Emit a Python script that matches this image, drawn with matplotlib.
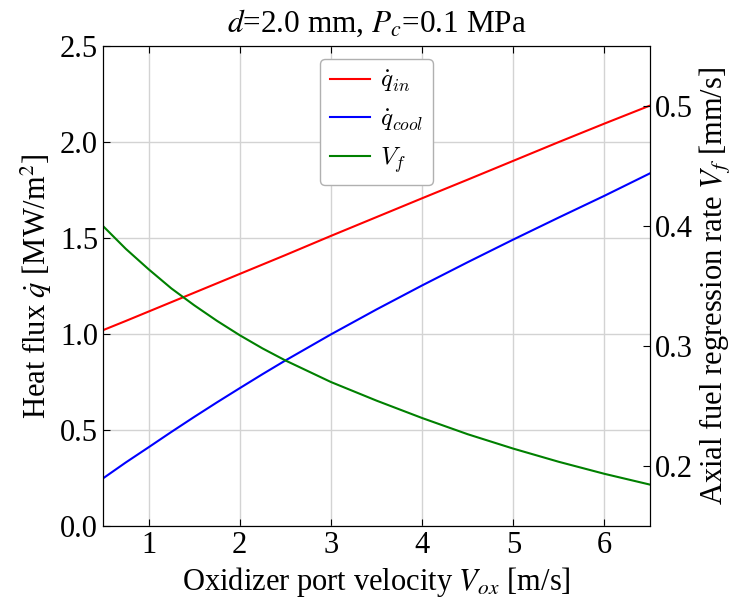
import matplotlib
matplotlib.use("Agg")
import matplotlib.pyplot as plt
from matplotlib.font_manager import FontProperties

plt.rcParams['font.family'] = ['Liberation Serif', 'DejaVu Serif']
plt.rcParams['mathtext.fontset'] = 'stix'

v_ox = [0.5, 0.75, 1.0, 1.25, 1.5, 1.75, 2.0, 2.25, 2.5, 3.0, 3.5, 4.0, 4.5, 5.0, 5.5, 6.0, 6.5]
q_in = [1.02, 1.068, 1.117, 1.166, 1.215, 1.264, 1.313, 1.362, 1.411, 1.511, 1.609, 1.707, 1.804, 1.902, 2.0, 2.096, 2.19]
q_cool = [0.248, 0.331, 0.41, 0.49, 0.568, 0.644, 0.718, 0.791, 0.862, 0.998, 1.128, 1.253, 1.374, 1.492, 1.607, 1.72, 1.837]
v_f = [0.400, 0.381, 0.364, 0.348, 0.334, 0.321, 0.309, 0.298, 0.288, 0.270, 0.2545, 0.240, 0.2265, 0.2145, 0.2035, 0.1935, 0.1845]

fig = plt.figure(figsize=(7.34, 6.0), dpi=100)
ax = fig.add_axes([0.1403, 0.1233, 0.7453, 0.80])
ax2 = ax.twinx()

l1, = ax.plot(v_ox, q_in, color='red', lw=1.5, label=r'$\dot{q}_{in}$')
l2, = ax.plot(v_ox, q_cool, color='blue', lw=1.5, label=r'$\dot{q}_{cool}$')
l3, = ax2.plot(v_ox, v_f, color='green', lw=1.5, label=r'$V_f$')

ax.set_xlim(0.5, 6.5)
ax.set_ylim(0.0, 2.5)
ax2.set_ylim(0.15, 0.55)
ax.set_xticks([1, 2, 3, 4, 5, 6])
ax.set_yticks([0.0, 0.5, 1.0, 1.5, 2.0, 2.5])
ax.set_yticklabels(['0.0', '0.5', '1.0', '1.5', '2.0', '2.5'])
ax2.set_yticks([0.2, 0.3, 0.4, 0.5])

ax.grid(True, color='#d3d3d3', lw=1.0)
ax.set_axisbelow(True)

fs = 22
ax.tick_params(axis='both', direction='in', labelsize=fs, top=True, right=False, length=5)
ax2.tick_params(axis='y', direction='in', labelsize=fs, length=5)

ax.set_xlabel(r'Oxidizer port velocity $V_{ox}$ [m/s]', fontsize=fs)
ax.set_ylabel(r'Heat flux $\dot{q}$ [MW/m$^2$]', fontsize=fs)
ax2.set_ylabel(r'Axial fuel regression rate $V_f$ [mm/s]', fontsize=fs)
ax.set_title(r'$d$=2.0 mm, $P_c$=0.1 MPa', fontsize=22.5, pad=10)

leg_prop = FontProperties(family='Liberation Serif', size=18, math_fontfamily='cm')
ax.legend(handles=[l1, l2, l3], loc='upper center', prop=leg_prop,
          handlelength=1.6, handletextpad=0.4, labelspacing=0.5,
          framealpha=1.0, edgecolor='#b0b0b0', fancybox=True)

for sp in ax.spines.values():
    sp.set_color('black')

fig.savefig('out.png', dpi=100)
